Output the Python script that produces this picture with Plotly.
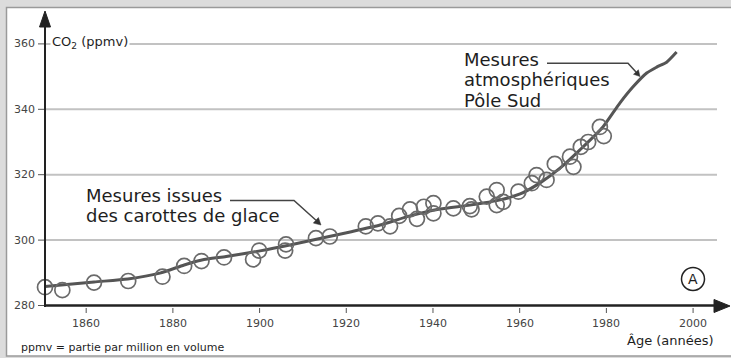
import plotly.graph_objects as go

# ---------------- data ----------------
ice_years = [1850.5, 1854.5, 1861.8, 1869.7, 1877.6, 1882.6, 1886.6, 1891.8, 1898.5, 1899.9,
             1905.9, 1906.1, 1913.0, 1916.2, 1924.5, 1927.3, 1930.1, 1932.2, 1934.7, 1936.3,
             1937.9, 1940.1, 1940.1, 1944.7, 1948.5, 1948.9, 1952.4, 1954.7, 1954.7, 1956.2,
             1959.7, 1962.8, 1963.9, 1966.2, 1968.1, 1971.6, 1972.4, 1974.1, 1975.8, 1978.5,
             1979.4]
ice_ppm = [285.6, 284.7, 287.0, 287.5, 288.8, 292.1, 293.6, 294.7, 294.1, 296.8,
           296.8, 298.7, 300.6, 301.1, 304.2, 305.1, 304.2, 307.4, 309.4, 306.5,
           310.2, 311.3, 308.2, 309.7, 310.4, 309.4, 313.3, 315.3, 310.7, 311.7,
           314.8, 317.4, 319.9, 318.4, 323.3, 325.5, 322.4, 328.5, 330.0, 334.6,
           331.8]

trend_years = [1850.5, 1861.8, 1869.6, 1877.0, 1882.6, 1886.7, 1892.3, 1900.1, 1907.0, 1913.9,
               1920.9, 1927.8, 1934.7, 1941.6, 1948.5, 1955.5, 1960.1, 1964.7, 1969.3, 1973.9,
               1979.2, 1983.1, 1986.1, 1989.3, 1991.6, 1993.9, 1996.2]
trend_ppm = [285.8, 287.2, 288.1, 289.9, 292.4, 293.9, 295.0, 296.7, 298.5, 300.5,
             302.5, 304.6, 307.4, 309.5, 310.7, 312.3, 314.1, 317.5, 322.0, 327.6,
             334.6, 341.9, 346.8, 351.1, 352.9, 354.4, 357.5]

y_ticks = [280, 300, 320, 340, 360]
y_grid = [300, 320, 340, 360]
x_ticks = [1860, 1880, 1900, 1920, 1940, 1960, 1980, 2000]
x_tick_labels = [str(v) for v in x_ticks]
y_tick_labels = [str(v) for v in y_ticks]

# ---------------- geometry helpers ----------------
W, H = 731, 358
YEAR_AT_AXIS, AXIS_PX, PX_PER_YEAR = 1850.5, 45, 4.335
PPM_AT_AXIS, AXIS_PY, PX_PER_PPM = 280, 305.5, 3.27
x_range = [YEAR_AT_AXIS - AXIS_PX / PX_PER_YEAR, YEAR_AT_AXIS + (W - AXIS_PX) / PX_PER_YEAR]
y_range = [PPM_AT_AXIS - (H - AXIS_PY) / PX_PER_PPM, PPM_AT_AXIS + AXIS_PY / PX_PER_PPM]


def px(x):
    return x / W


def py(y):
    return 1 - y / H


def tri(pts):
    p = " L ".join(f"{px(a)},{py(b)}" for a, b in pts)
    return f"M {p} Z"


FONT = "DejaVu Sans"
TXT = "#1e1e1e"

fig = go.Figure()
fig.add_trace(go.Scatter(x=trend_years, y=trend_ppm, mode="lines",
                         line=dict(color="#555555", width=3, shape="spline", smoothing=0.6),
                         hoverinfo="skip", showlegend=False))
fig.add_trace(go.Scatter(x=ice_years, y=ice_ppm, mode="markers",
                         marker=dict(symbol="circle-open", size=15, color="#6a6a6a",
                                     line=dict(width=1.7, color="#6a6a6a")),
                         showlegend=False))

shapes = []
# frame
shapes.append(dict(type="rect", xref="paper", yref="paper", x0=px(6.5), x1=px(745),
                   y0=py(356), y1=py(7.5), fillcolor="white",
                   line=dict(color="#9a9a9a", width=1.5), layer="below"))
# gridlines
for v in y_grid:
    shapes.append(dict(type="line", xref="paper", yref="y", x0=px(45), x1=px(717), y0=v, y1=v,
                       line=dict(color="#c2c2c2", width=2), layer="below"))
# y tick marks
for v in y_ticks:
    shapes.append(dict(type="line", xref="paper", yref="y", x0=px(38), x1=px(45), y0=v, y1=v,
                       line=dict(color="#555555", width=1)))
# x tick marks
for v in x_ticks:
    shapes.append(dict(type="line", xref="x", yref="paper", x0=v, x1=v, y0=py(308), y1=py(313),
                       line=dict(color="#555555", width=1)))
# axes
shapes.append(dict(type="line", xref="paper", yref="y", x0=px(45), x1=px(716), y0=280, y1=280,
                   line=dict(color="#222222", width=2.5)))
shapes.append(dict(type="path", xref="paper", yref="paper",
                   path=tri([(730, 306), (714, 299.5), (714, 312.5)]),
                   fillcolor="#222222", line=dict(color="#222222", width=1)))
shapes.append(dict(type="line", xref="paper", yref="paper", x0=px(45), x1=px(45), y0=py(307), y1=py(25),
                   line=dict(color="#222222", width=2)))
shapes.append(dict(type="path", xref="paper", yref="paper",
                   path=tri([(45, 11), (39.5, 27), (50.5, 27)]),
                   fillcolor="#222222", line=dict(color="#222222", width=1)))
# leader lines
LEAD = dict(color="#444444", width=1.5)
shapes.append(dict(type="path", xref="paper", yref="paper",
                   path=f"M {px(230)},{py(200.5)} L {px(294)},{py(200.5)} L {px(316)},{py(220.3)}",
                   line=LEAD))
shapes.append(dict(type="path", xref="paper", yref="paper",
                   path=tri([(321, 225), (313.3, 223.1), (318.4, 217.5)]),
                   fillcolor="#333333", line=dict(color="#333333", width=0.5)))
shapes.append(dict(type="path", xref="paper", yref="paper",
                   path=f"M {px(547)},{py(63.3)} L {px(628)},{py(63.3)} L {px(636)},{py(72)}",
                   line=LEAD))
shapes.append(dict(type="path", xref="paper", yref="paper",
                   path=tri([(640, 76.5), (633.5, 74.3), (638.4, 69.8)]),
                   fillcolor="#333333", line=dict(color="#333333", width=0.5)))
# circled A
shapes.append(dict(type="circle", xref="paper", yref="paper", x0=px(681.5), x1=px(704.5),
                   y0=py(290.5), y1=py(267.5), line=dict(color="#222222", width=1.5)))

ann = []
for v, lab in zip(y_ticks, y_tick_labels):
    ann.append(dict(x=px(37), xref="paper", y=v, yref="y", text=lab, showarrow=False,
                    xanchor="right", yanchor="middle", font=dict(family=FONT, size=11, color="#444444")))
for v, lab in zip(x_ticks, x_tick_labels):
    ann.append(dict(x=v, xref="x", y=py(323), yref="paper", text=lab, showarrow=False,
                    xanchor="center", yanchor="middle", font=dict(family=FONT, size=11, color="#444444")))


def label(text, x, y, size, anchor="left", **kw):
    ann.append(dict(x=px(x), y=py(y), xref="paper", yref="paper", text=text, showarrow=False,
                    xanchor=anchor, yanchor="middle", font=dict(family=FONT, size=size, color=TXT), **kw))


label("CO<sub>2</sub> (ppmv)", 50, 42, 13, bgcolor="white", borderpad=1)
label("Mesures issues", 84, 195.5, 18)
label("des carottes de glace", 84, 215.5, 18)
label("Mesures", 462, 59, 18)
label("atmosphériques", 462, 79.5, 18)
label("Pôle Sud", 462, 100, 18)
label("Âge (années)", 716, 340, 13, anchor="right")
label("ppmv = partie par million en volume", 19, 347, 11)
label("A", 693, 279, 14, anchor="center")

fig.update_layout(
    width=W, height=H, autosize=False,
    margin=dict(l=0, r=0, t=0, b=0, pad=0),
    paper_bgcolor="#dcdcdc", plot_bgcolor="rgba(0,0,0,0)",
    xaxis=dict(range=x_range, visible=False, fixedrange=True),
    yaxis=dict(range=y_range, visible=False, fixedrange=True),
    shapes=shapes, annotations=ann, showlegend=False,
)

fig.write_html("out.html", config={"displayModeBar": False},
               post_script="document.body.style.margin='0';document.body.style.padding='0';")
